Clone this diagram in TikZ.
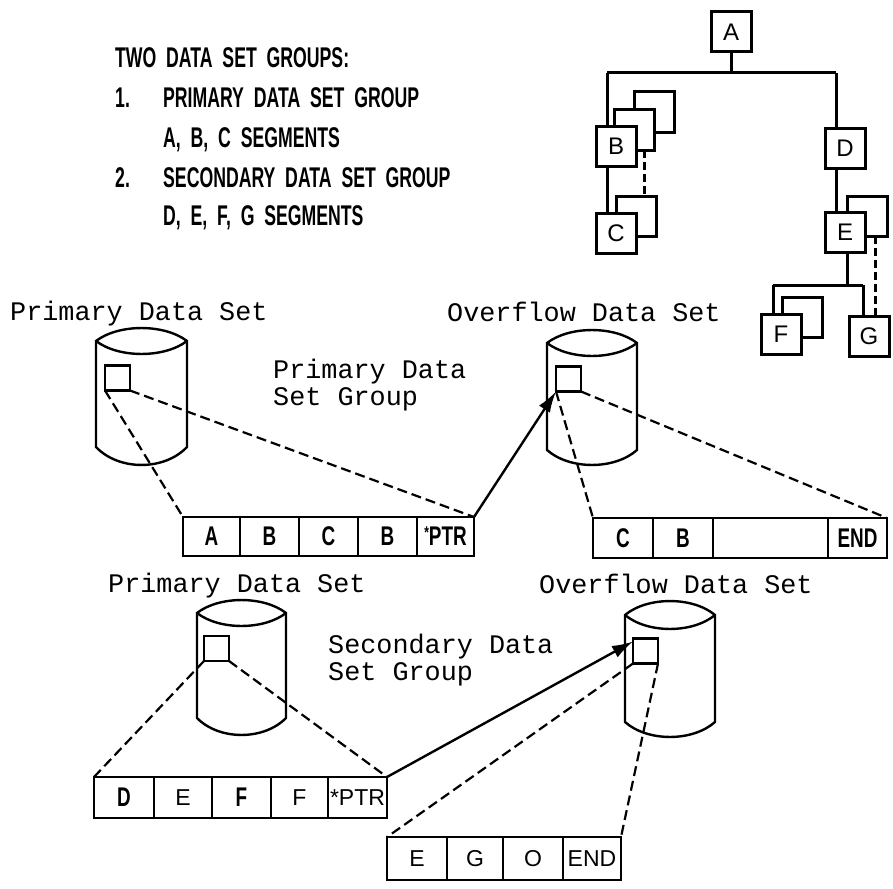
\documentclass[tikz,border=0pt]{standalone}
\usepackage{fontspec}
\setmainfont{Liberation Sans}
\newfontfamily\monof{Liberation Mono}
\newfontfamily\condf{Liberation Sans}[FakeStretch=0.7]
\newfontfamily\hdrf{Liberation Sans}[FakeStretch=0.62, WordSpace=2]
\usetikzlibrary{arrows.meta}
\newcommand\drawcyl[6]{%
 \filldraw[cylline] (#1,#3) .. controls ({#1+0.25*(#2-#1)},{#3-1.33*#5}) and ({#2-0.25*(#2-#1)},{#3-1.33*#5}) .. (#2,#3) -- (#2,#4) .. controls ({#2-0.25*(#2-#1)},{#4+1.33*#6}) and ({#1+0.25*(#2-#1)},{#4+1.33*#6}) .. (#1,#4) -- cycle;
 \draw[cylline] (#1,#3) .. controls ({#1+0.25*(#2-#1)},{#3+1.33*#5}) and ({#2-0.25*(#2-#1)},{#3+1.33*#5}) .. (#2,#3);
}
\tikzset{
 tbox/.style={draw, line width=3pt, fill=white, minimum size=40pt, inner sep=0pt, outer sep=0pt, font=\fontsize{24}{24}\selectfont},
 tline/.style={line width=3pt},
 tdash/.style={line width=3pt, dash pattern=on 8pt off 4pt},
 cylline/.style={line width=2.4pt, fill=white},
 sq/.style={draw, line width=2.2pt, minimum size=25pt, inner sep=0pt, outer sep=0pt},
 cell/.style={draw, line width=2.4pt, inner sep=0pt, outer sep=0pt, anchor=west},
 condtxt/.style={font=\condf\bfseries\fontsize{27}{27}\selectfont},
 sanstxt/.style={font=\fontsize{23}{23}\selectfont},
 zoomline/.style={line width=2.2pt, dash pattern=on 10pt off 5pt},
 ptr/.style={line width=2.4pt, -{Latex[length=21pt,width=13pt]}},
 monolab/.style={font=\monof\fontsize{26.8}{27}\selectfont, inner sep=0pt, anchor=base west},
 hdr/.style={font=\hdrf\bfseries\fontsize{28.5}{28.5}\selectfont, inner sep=0pt, anchor=base west}
}
\begin{document}
\begin{tikzpicture}[x=1pt,y=-1pt]
\useasboundingbox (0,0) rectangle (893,888);
% header text
\node[hdr] (h0) at (115,68) {TWO DATA SET GROUPS:};
\node[hdr] (h1n) at (115,108) {1.};
\node[hdr] (h1) at (163,108) {PRIMARY DATA SET GROUP};
\node[hdr] (h1s) at (163,147) {A, B, C SEGMENTS};
\node[hdr] (h2n) at (115,187) {2.};
\node[hdr] (h2) at (163,187) {SECONDARY DATA SET GROUP};
\node[hdr] (h2s) at (163,225) {D, E, F, G SEGMENTS};
% hierarchy tree
\node[tbox] (B3) at (654,112) {};
\node[tbox] (B2) at (634,130) {};
\node[tbox] (Cb) at (636,216) {};
\node[tbox] (Eb) at (867,216) {};
\node[tbox] (Fb) at (802,317) {};
\draw[tline] (731,52) -- (731,73) coordinate (ja);
\draw[tline] (607,73) -- (836,73);
\draw[tline] (607,73) -- (607,126);
\draw[tline] (836,73) -- (836,128);
\draw[tdash] ([xshift=10pt]B2.south) -- ([xshift=8pt]Cb.north);
\draw[tdash] ([xshift=8pt]Eb.south) -- (875,316);
\node[tbox] (A) at (731,32) {A};
\node[tbox] (B) at (616,146) {B};
\node[tbox] (C) at (616,233) {C};
\node[tbox] (D) at (845,148) {D};
\node[tbox] (E) at (845,232) {E};
\node[tbox] (F) at (781,334) {F};
\node[tbox] (G) at (869,336) {G};
\draw[tline] ([xshift=-9pt]B.south) -- ([xshift=-9pt]C.north);
\draw[tline] ([xshift=-9pt]D.south) -- ([xshift=-9pt]E.north);
\draw[tline] ([xshift=2pt]E.south) -- (847,285) coordinate (je);
\draw[tline] (773,285) -- (863,285);
\draw[tline] (773,285) -- ([xshift=-8pt]F.north);
\draw[tline] (863,285) -- ([xshift=-6pt]G.north);
% labels
\node[monolab] (p1) at (10,320) {Primary Data Set};
\node[monolab] (o1) at (447,321) {Overflow Data Set};
\node[monolab, align=left] (g1) at (273,405) {Primary Data\\Set Group};
\node[monolab] (p2) at (108,592) {Primary Data Set};
\node[monolab] (o2) at (539,593) {Overflow Data Set};
\node[monolab, align=left] (g2) at (328,680) {Secondary Data\\Set Group};
% cylinders
\drawcyl{96}{187}{341}{447}{13}{18}
\drawcyl{547}{637}{343}{450}{13}{15}
\drawcyl{197}{286}{613}{718}{13}{17}
\drawcyl{625}{715}{615}{722}{14}{15}
\node[sq] (s1) at (117.5,378) {};
\node[sq] (s2) at (568.5,379) {};
\node[sq] (s3) at (216.5,648.5) {};
\node[sq] (s4) at (645.5,651) {};
% record 1
\node[cell, condtxt, minimum width=57pt, minimum height=39pt] (r1a) at (183,536.5) {A};
\node[cell, condtxt, minimum width=59pt, minimum height=39pt] (r1b) at (r1a.east) {B};
\node[cell, condtxt, minimum width=59pt, minimum height=39pt] (r1c) at (r1b.east) {C};
\node[cell, condtxt, minimum width=59pt, minimum height=39pt] (r1d) at (r1c.east) {B};
\node[cell, condtxt, minimum width=57pt, minimum height=39pt] (r1e) at (r1d.east) {\raisebox{7pt}{\fontsize{17}{17}\selectfont *}PTR};
% record 2
\node[cell, condtxt, minimum width=60pt, minimum height=40pt] (r2a) at (593,538) {C};
\node[cell, condtxt, minimum width=60pt, minimum height=40pt] (r2b) at (r2a.east) {B};
\node[cell, condtxt, minimum width=115pt, minimum height=40pt] (r2c) at (r2b.east) {};
\node[cell, condtxt, minimum width=59pt, minimum height=40pt] (r2d) at (r2c.east) {END};
% record 3
\node[cell, condtxt, minimum width=60pt, minimum height=41pt] (r3a) at (94,797.5) {D};
\node[cell, sanstxt, minimum width=58pt, minimum height=41pt] (r3b) at (r3a.east) {E};
\node[cell, condtxt, minimum width=59pt, minimum height=41pt] (r3c) at (r3b.east) {F};
\node[cell, sanstxt, minimum width=57pt, minimum height=41pt] (r3d) at (r3c.east) {F};
\node[cell, sanstxt, minimum width=59pt, minimum height=41pt] (r3e) at (r3d.east) {*PTR};
% record 4
\node[cell, sanstxt, minimum width=60pt, minimum height=43pt] (r4a) at (387,858.5) {E};
\node[cell, sanstxt, minimum width=56pt, minimum height=43pt] (r4b) at (r4a.east) {G};
\node[cell, sanstxt, minimum width=60pt, minimum height=43pt] (r4c) at (r4b.east) {O};
\node[cell, sanstxt, minimum width=58pt, minimum height=43pt] (r4d) at (r4c.east) {END};
% zoom lines
\draw[zoomline] (s1.south west) -- (r1a.north west);
\draw[zoomline] (s1.south east) -- (r1e.north east);
\draw[zoomline] (s2.south west) -- (r2a.north west);
\draw[zoomline] (s2.south east) -- (r2d.north east);
\draw[zoomline] (s3.south west) -- (r3a.north west);
\draw[zoomline] (s3.south east) -- (r3e.north east);
\draw[zoomline] (s4.south west) -- (r4a.north west);
\draw[zoomline] (s4.south east) -- (r4d.north east);
% pointers
\draw[ptr] (r1e.north east) -- (s2.south west);
\draw[ptr] (r3e.north east) -- ([yshift=-3pt]s4.north west);
\end{tikzpicture}
\end{document}
